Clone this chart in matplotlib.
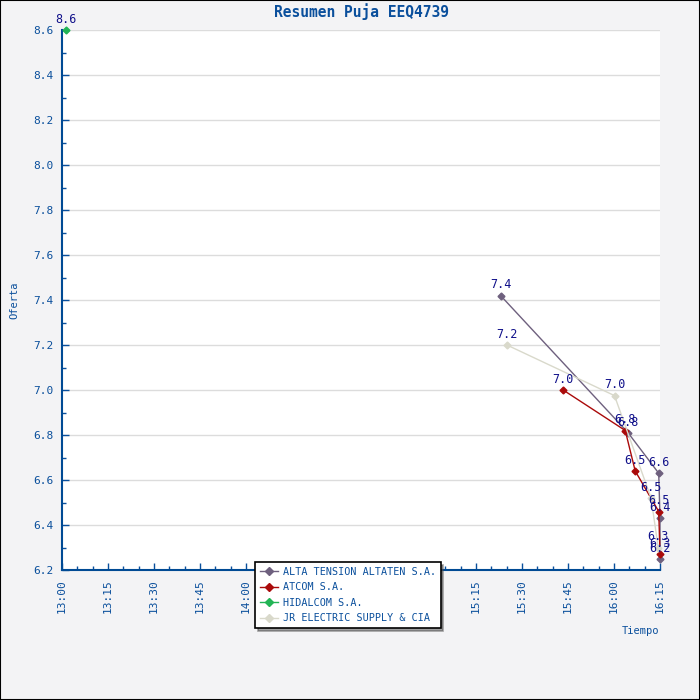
import matplotlib
matplotlib.use("Agg")
import matplotlib.pyplot as plt
from matplotlib.lines import Line2D
from matplotlib.patches import Rectangle

# Bid summary (minutes after 13:00)
def mins(t):
    h, m, s = (int(v) for v in t.split(":"))
    return (h - 13) * 60 + m + s / 60.0

series_names = ["ALTA TENSION ALTATEN S.A.", "ATCOM S.A.", "HIDALCOM S.A.", "JR ELECTRIC SUPPLY & CIA"]
series_colors = ["#6e607e", "#aa0a0a", "#22b455", "#d9d9cb"]

alta_times = ["15:23:00", "16:04:35", "16:14:35", "16:15:00", "16:15:00"]
alta_vals = [7.42, 6.81, 6.63, 6.43, 6.25]
alta_labels = ["7.4", "6.8", "6.6", "6.4", "6.2"]

atcom_times = ["15:43:25", "16:03:40", "16:06:55", "16:14:35", "16:15:00"]
atcom_vals = [7.00, 6.82, 6.64, 6.46, 6.27]
atcom_labels = ["7.0", "6.8", "6.5", "6.5", "6.3"]

hidal_times = ["13:01:10"]
hidal_vals = [8.60]
hidal_labels = ["8.6"]

jr_times = ["15:25:05", "16:00:10", "16:12:05", "16:14:25"]
jr_vals = [7.20, 6.975, 6.52, 6.30]
jr_labels = ["7.2", "7.0", "6.5", "6.3"]

xtick_labels = ["13:00", "13:15", "13:30", "13:45", "14:00", "14:15", "14:30",
                "14:45", "15:00", "15:15", "15:30", "15:45", "16:00", "16:15"]

blue = "#0a4f9c"
navy = "#10108a"
font = "DejaVu Sans Mono"

fig = plt.figure(figsize=(7, 7), dpi=100, facecolor="#f3f3f5")
ax = fig.add_axes([62 / 700, 130 / 700, 598 / 700, 540 / 700])
ax.set_facecolor("white")

all_series = [
    (alta_times, alta_vals, alta_labels),
    (atcom_times, atcom_vals, atcom_labels),
    (hidal_times, hidal_vals, hidal_labels),
    (jr_times, jr_vals, jr_labels),
]
for (times, vals, labels), color in zip(all_series, series_colors):
    xs = [mins(t) for t in times]
    ax.plot(xs, vals, color=color, lw=1, marker="D", ms=3.5, clip_on=False, zorder=3)
    for x, y, lab in zip(xs, vals, labels):
        ax.annotate(lab, (x, y), xytext=(0, 3), textcoords="offset points",
                    ha="center", va="bottom", color=navy, fontsize=8.5,
                    family=font, annotation_clip=False, zorder=4)

ax.set_xlim(0, 195)
ax.set_ylim(6.2, 8.6)
ax.set_xticks([i * 15 for i in range(len(xtick_labels))])
ax.set_xticks(range(0, 196, 5), minor=True)
ax.set_xticklabels(xtick_labels, rotation=90, family=font, fontsize=8, color=blue)
yt = [6.2 + 0.2 * i for i in range(13)]
ax.set_yticks(yt)
ax.set_yticklabels([f"{v:.1f}" for v in yt], family=font, fontsize=8, color=blue)
ax.set_yticks([6.2 + 0.1 * i for i in range(25)], minor=True)
ax.tick_params(axis="both", which="major", direction="in", length=5, width=1, color=blue, pad=6)
ax.tick_params(axis="both", which="minor", direction="in", length=3, width=1, color=blue)
ax.tick_params(axis="x", pad=7)
ax.grid(axis="y", color="#dcdcdc", lw=1)
ax.set_axisbelow(True)
for side in ["top", "right"]:
    ax.spines[side].set_visible(False)
for side in ["left", "bottom"]:
    ax.spines[side].set_color("#004a94")
    ax.spines[side].set_linewidth(1.5)

ax.set_title("Resumen Puja EEQ4739", family=font, fontweight="bold", fontsize=10.5,
             color=blue, pad=9)
fig.text(14 / 700, 1 - 300 / 700, "Oferta", rotation=90, ha="center", va="center",
         family=font, fontsize=7.5, color=blue)
fig.text(641 / 700, 1 - 631 / 700, "Tiempo", ha="center", va="center",
         family=font, fontsize=7.5, color=blue)

handles = [Line2D([], [], color=c, lw=1, marker="D", ms=4) for c in series_colors]
leg = fig.legend(handles, series_names, loc="lower left",
                 bbox_to_anchor=(255 / 700, 72 / 700), frameon=True, fancybox=False,
                 shadow=True, edgecolor="black", framealpha=1, borderpad=0.45,
                 borderaxespad=0, handlelength=1.8, handletextpad=0.5,
                 labelspacing=0.55, prop={"family": font, "size": 7.3})
for t in leg.get_texts():
    t.set_color(blue)
leg.get_frame().set_linewidth(1.2)

fig.patches.append(Rectangle((0, 0), 1, 1, transform=fig.transFigure, fill=False,
                             edgecolor="black", lw=1.5))

fig.savefig("out.png", dpi=100, facecolor=fig.get_facecolor())
